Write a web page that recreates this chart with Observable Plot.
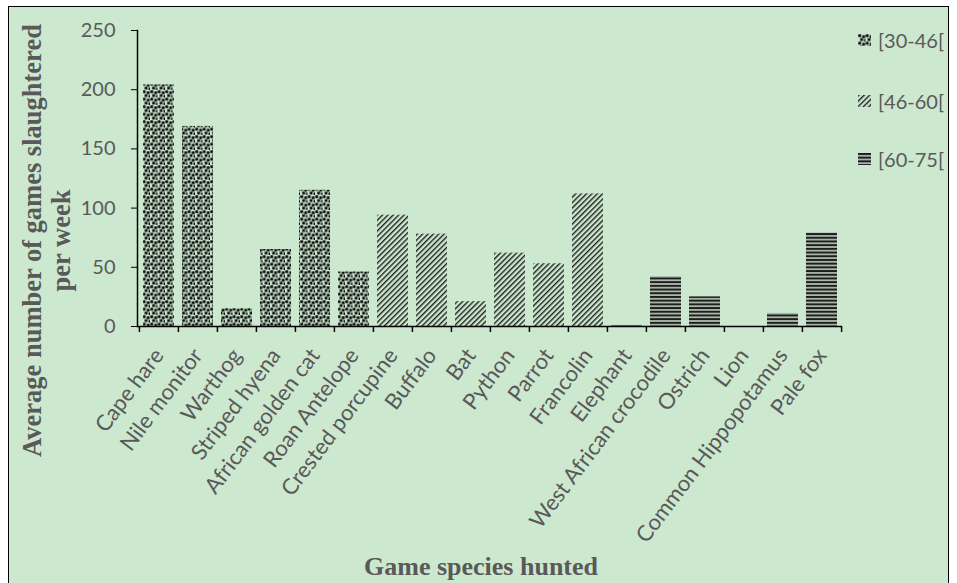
<!DOCTYPE html>
<html><head><meta charset="utf-8">
<script src="https://cdn.jsdelivr.net/npm/d3@7"></script>
<script src="https://cdn.jsdelivr.net/npm/@observablehq/plot@0.6"></script>
<style>
html,body{margin:0;padding:0;background:#fff;}
#wrap{position:relative;width:957px;height:583px;overflow:hidden;}
#bg{position:absolute;left:8px;top:6px;width:941px;height:580px;background:#cce8cf;border:1.5px solid #000;box-sizing:border-box;}
#chart{position:absolute;left:0;top:0;}
#legend{position:absolute;left:858px;top:0;font-family:Lato,sans-serif;font-size:20px;color:#595959;}
.item{position:absolute;left:0;height:22px;white-space:nowrap;display:flex;align-items:center;}
.item svg{margin-right:7px;}
</style></head>
<body>
<svg width="0" height="0" style="position:absolute">
 <defs>
  <pattern id="pDots" width="7.5" height="7.5" patternUnits="userSpaceOnUse">
   <rect x="0.3" y="0.3" width="2.8" height="2.8" fill="#0a0a0a"/>
   <rect x="4.3" y="1.3" width="2.8" height="2.8" fill="#0a0a0a"/>
   <rect x="2.2" y="4.2" width="2.8" height="2.8" fill="#0a0a0a"/>
   <rect x="6.1" y="5.0" width="2.8" height="2.8" fill="#0a0a0a"/>
  </pattern>
  <pattern id="pDiag" width="3.8" height="3.8" patternUnits="userSpaceOnUse" patternTransform="rotate(45)">
   <rect x="0" y="0" width="1.4" height="3.8" fill="#222"/>
  </pattern>
  <pattern id="pHoriz" width="4" height="3.7" patternUnits="userSpaceOnUse">
   <rect x="0" y="0" width="4" height="3.7" fill="#a9b8a9"/>
   <rect x="0" y="0" width="4" height="1.9" fill="#1c1c1c"/>
  </pattern>
 </defs>
</svg>
<div id="wrap"><div id="bg"></div><div id="chart"></div><div id="legend"></div></div>
<script>
const species = ["Cape hare","Nile monitor","Warthog","Striped hyena","African golden cat","Roan Antelope","Crested porcupine","Buffalo","Bat","Python","Parrot","Francolin","Elephant","West African crocodile","Ostrich","Lion","Common Hippopotamus","Pale fox"];
const values = [204, 169, 15, 65, 115, 46, 94, 78, 21, 62, 53, 112, 1, 42, 25, 0, 11, 79];
const ageClass = ["[30-46[","[30-46[","[30-46[","[30-46[","[30-46[","[30-46[","[46-60[","[46-60[","[46-60[","[46-60[","[46-60[","[46-60[","[60-75[","[60-75[","[60-75[","[60-75[","[60-75[","[60-75["];
const groups = ["[30-46[","[46-60[","[60-75["];
const yTicks = [0, 50, 100, 150, 200, 250];
const yTitleLines = ["Average number of games slaughtered","per week"];
const xTitle = "Game species hunted";

const patterns = ["url(#pDots)","url(#pDiag)","url(#pHoriz)"];
const rows = species.map((s,i)=>({s, v: values[i], g: ageClass[i]}));

const W=957, H=583, L=137, R=842, T=30, B=326;
const step = (R-L)/species.length;
const grey = "#595959";

const chart = Plot.plot({
  width: W, height: H,
  marginLeft: L, marginRight: W-R, marginTop: T, marginBottom: H-B,
  style: {background: "transparent", fontFamily: "Lato, sans-serif", color: grey},
  x: {domain: species, paddingInner: 0.215, paddingOuter: 0.1075, label: null, axis: null},
  y: {domain: [0, 250], label: null, axis: null},
  marks: [
    ...groups.map((g,k)=>Plot.barY(rows.filter(d=>d.g===g), {x: "s", y: "v", fill: patterns[k]})),
    Plot.ruleY([0], {stroke: "#000", strokeWidth: 1.5}),
    Plot.frame({anchor: "left", stroke: "#000", strokeWidth: 1.5}),
    Plot.ruleX(species, {x: d=>d, y1: 0, y2: -5, dx: -step/2, stroke: "#000", strokeWidth: 1.5}),
    Plot.ruleX([species[species.length-1]], {x: d=>d, y1: 0, y2: -5, dx: step/2, stroke: "#000", strokeWidth: 1.5}),
    Plot.axisY({ticks: yTicks, tickSize: 6, tickPadding: 16, fontSize: 20, stroke: "#000", fill: grey, label: null}),
    Plot.axisX({tickSize: 0, tickRotate: -53, tickPadding: 25, fontSize: 22, fill: grey, label: null}),
    Plot.text([yTitleLines.join("\n")], {text: d=>d, frameAnchor: "left", textAnchor: "middle", rotate: -90, dx: -91, dy: 62, fontSize: 26.5, fontWeight: "bold", fontFamily: "Liberation Serif", fill: grey, lineAnchor: "middle", lineHeight: 1.1}),
    Plot.text([xTitle], {text: d=>d, frameAnchor: "bottom", dx: -9, dy: 240, fontSize: 26, fontWeight: "bold", fontFamily: "Liberation Serif", fill: grey, lineAnchor: "middle"})
  ]
});
document.getElementById("chart").appendChild(chart);

const legend = document.getElementById("legend");
const legendY = [40, 101, 159];
groups.forEach((g,k)=>{
  const item = document.createElement("div");
  item.className = "item";
  item.style.top = (legendY[k]-11) + "px";
  item.innerHTML = `<svg width="13" height="12"><rect width="13" height="12" fill="${patterns[k]}"/></svg><span>${g}</span>`;
  legend.appendChild(item);
});
</script>
</body></html>
